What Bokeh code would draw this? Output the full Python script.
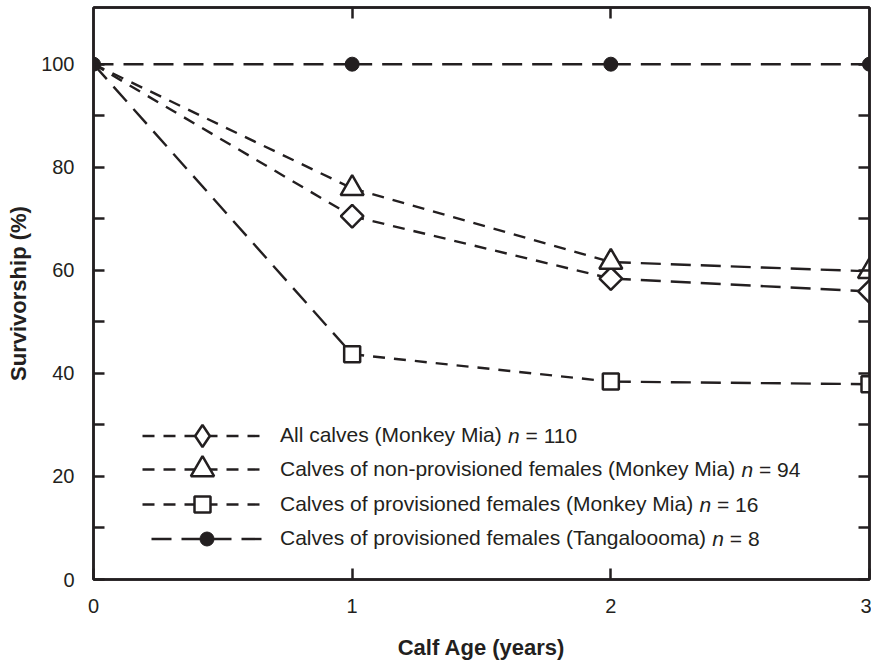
import math
from bokeh.plotting import figure
from bokeh.models import (LinearAxis, FixedTicker, Legend, LegendItem, Label,
                          Range1d, CustomJSTickFormatter)
from bokeh.embed import file_html
from bokeh.resources import INLINE

# ---------------- data ----------------
years = [0, 1, 2, 3]
all_calves = [100, 70.5, 58.4, 55.9]
non_provisioned = [100, 75.9, 61.6, 59.8]
provisioned_mm = [100, 43.7, 38.4, 37.9]
tangalooma = [100, 100, 100, 100]

# dash style of each segment (year i -> year i+1)
dash_all = ["short", "short", "long"]
dash_nonprov = ["short", "short", "long"]
dash_prov = ["long", "short", "long"]
dash_tang = ["long", "long", "long"]

x_ticks = [0, 1, 2, 3]
y_ticks = [0, 20, 40, 60, 80, 100]
y_minor = [10, 30, 50, 70, 90]

legend_names = ["All calves (Monkey Mia)",
                "Calves of non-provisioned females (Monkey Mia)",
                "Calves of provisioned females (Monkey Mia)",
                "Calves of provisioned females (Tangaloooma)"]
legend_n = ["110", "94", "16", "8"]

# ---------------- style ----------------
INK = "#231f20"
FONT = "Liberation Sans"
DASH = {"short": "12 9", "long": "20 10"}
LW = 2.4

p = figure(width=871, height=662, x_range=Range1d(0, 3), y_range=Range1d(0, 111),
           output_backend="svg", toolbar_location=None,
           min_border_left=93, min_border_right=2, min_border_top=7,
           min_border_bottom=82)
p.xgrid.visible = False
p.ygrid.visible = False
p.outline_line_color = INK
p.outline_line_width = 2.5
p.background_fill_color = "white"
p.border_fill_color = "white"


def style_axis(ax):
    ax.axis_line_color = INK
    ax.axis_line_width = 2.5
    ax.major_tick_line_color = INK
    ax.major_tick_line_width = 2.5
    ax.major_tick_in = 11
    ax.major_tick_out = 0
    ax.minor_tick_line_color = INK
    ax.minor_tick_line_width = 2.5
    ax.minor_tick_in = 11
    ax.minor_tick_out = 0
    ax.major_label_text_font = FONT
    ax.major_label_text_font_size = "20px"
    ax.major_label_text_color = INK
    ax.axis_label_text_font = FONT
    ax.axis_label_text_font_size = "22px"
    ax.axis_label_text_font_style = "bold"
    ax.axis_label_text_color = INK


xa = p.xaxis[0]
style_axis(xa)
xa.ticker = FixedTicker(ticks=x_ticks, minor_ticks=[])
xa.axis_label = "Calf Age (years)"
xa.major_label_standoff = 19
xa.axis_label_standoff = 19

ya = p.yaxis[0]
style_axis(ya)
ya.ticker = FixedTicker(ticks=y_ticks, minor_ticks=y_minor)
ya.axis_label = "Survivorship (%)"
ya.major_label_standoff = 19
ya.axis_label_standoff = 7

blank = CustomJSTickFormatter(code="return '';")
ra = LinearAxis(ticker=FixedTicker(ticks=y_ticks, minor_ticks=y_minor), formatter=blank)
style_axis(ra)
ra.major_label_standoff = 0
p.add_layout(ra, "right")

ta = LinearAxis(ticker=FixedTicker(ticks=[1, 2], minor_ticks=[]), formatter=blank)
style_axis(ta)
ta.major_label_standoff = 0
p.add_layout(ta, "above")

# ---------------- series ----------------
def draw_series(vals, dashes):
    rs = []
    for i, d in enumerate(dashes):
        r = p.line(years[i:i + 2], vals[i:i + 2], line_color=INK, line_width=LW,
                   line_dash=DASH[d])
        rs.append((d, r))
    return rs

seg_all = draw_series(all_calves, dash_all)
seg_non = draw_series(non_provisioned, dash_nonprov)
seg_prov = draw_series(provisioned_mm, dash_prov)
seg_tang = draw_series(tangalooma, dash_tang)

# legend keys are never rotated, so the diamond key comes from a diamond marker
# that sits fully underneath the rotated-square diamonds of the plot
key_all = p.scatter(years[1:], all_calves[1:], marker="diamond", size=22,
                    fill_color="white", line_color=INK, line_width=2.5)
m_all = p.scatter(years[1:], all_calves[1:], marker="square", angle=math.pi / 4, size=16,
                  fill_color="white", line_color=INK, line_width=2.5)
m_non = p.scatter(years[1:], non_provisioned[1:], marker="triangle", size=23,
                  fill_color="white", line_color=INK, line_width=2.5)
m_prov = p.scatter(years[1:], provisioned_mm[1:], marker="square", size=16,
                   fill_color="white", line_color=INK, line_width=2.5)
m_tang = p.scatter(years, tangalooma, marker="circle", size=14,
                   fill_color=INK, line_color=INK, line_width=1)

# ---------------- legend ----------------
ARIAL = {' ': 278, '(': 333, ')': 333, '-': 333, '=': 584, 'A': 667, 'C': 722,
         'M': 833, 'T': 611, 'a': 556, 'c': 500, 'd': 556, 'e': 556, 'f': 278,
         'g': 556, 'i': 222, 'k': 500, 'l': 222, 'm': 833, 'n': 556, 'o': 556,
         'p': 556, 'r': 333, 's': 500, 'v': 500, 'y': 500}
for ch in "0123456789":
    ARIAL[ch] = 556
KERN = {"Ta": -111}
FS = 21


def tw(s):
    w = sum(ARIAL.get(c, 556) for c in s)
    w += sum(KERN.get(s[i:i + 2], 0) for i in range(len(s) - 1))
    return w / 1000.0 * FS


FRAME_LEFT = 93
row_above_bottom = [144, 110, 75, 41]   # row centre, px above the frame bottom
glyph_lefts = [142, 142, 142, 151]
glyph_widths = [120, 120, 120, 111]
glyph_heights = [55, 58, 40, 35]
line_rs = [seg_all[1][1], seg_non[1][1], seg_prov[1][1], seg_tang[0][1]]
marker_rs = [key_all, m_non, m_prov, m_tang]
STANDOFF = 18

for i in range(4):
    gh = glyph_heights[i]
    cy = row_above_bottom[i]
    vx = glyph_lefts[i] - FRAME_LEFT
    lg = Legend(items=[LegendItem(label=legend_names[i], renderers=[line_rs[i], marker_rs[i]])],
                location=(vx, cy - gh / 2), glyph_width=glyph_widths[i], glyph_height=gh,
                label_height=gh, label_standoff=STANDOFF, padding=0, margin=0, spacing=0,
                border_line_color=None, background_fill_alpha=0,
                label_text_font=FONT, label_text_font_size=f"{FS}px", label_text_color=INK)
    p.add_layout(lg)
    lx = vx + glyph_widths[i] + STANDOFF
    nx = lx + tw(legend_names[i] + " ")
    p.add_layout(Label(x=nx, y=cy, x_units="screen", y_units="screen", text="n",
                       text_font=FONT, text_font_size=f"{FS}px", text_font_style="italic",
                       text_color=INK, text_baseline="middle", text_align="left"))
    p.add_layout(Label(x=nx + tw("n "), y=cy, x_units="screen", y_units="screen",
                       text="= " + legend_n[i],
                       text_font=FONT, text_font_size=f"{FS}px",
                       text_color=INK, text_baseline="middle", text_align="left"))

open("out.html", "w").write(file_html(p, INLINE))
